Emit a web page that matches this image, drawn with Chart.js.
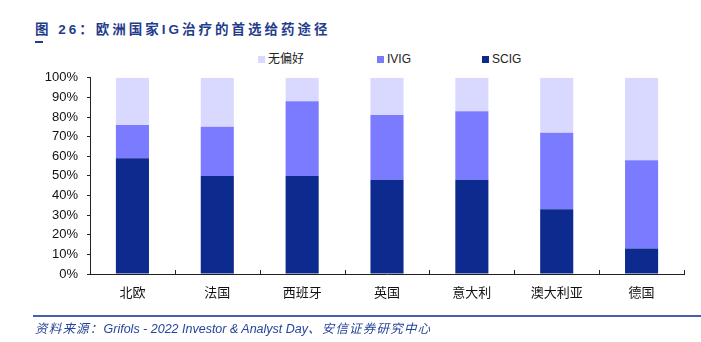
<!DOCTYPE html>
<html>
<head>
<meta charset="utf-8">
<script src="https://cdn.jsdelivr.net/npm/chart.js@4.4.1/dist/chart.umd.min.js"></script>
<style>
  html, body { margin: 0; padding: 0; background: #fff; }
  body { width: 701px; height: 342px; position: relative; overflow: hidden; }
  #title { position: absolute; left: 35px; top: 18px; font: bold 13.5px "Liberation Sans", "Noto Sans CJK SC", sans-serif; color: #1f3d8c; letter-spacing: 3px; white-space: nowrap; }
  #tick { position: absolute; left: 35px; top: 41px; width: 8px; height: 2px; background: #1f3d8c; }
  #legend { position: absolute; top: 51px; left: 0; width: 701px; height: 16px; }
  .li { position: absolute; top: 0; height: 16px; font: 12px "Liberation Sans", "Noto Sans CJK SC", sans-serif; color: #222; white-space: nowrap; line-height: 16px; }
  .li span.box { display: inline-block; width: 7px; height: 7px; margin-right: 3px; vertical-align: 0px; }
  #wrap { position: absolute; left: 0; top: 61px; width: 701px; height: 259px; }
  #c { display: block; width: 701px; height: 259px; }
  #rule { position: absolute; left: 33px; top: 315px; width: 668px; height: 2px; background: #4b5fb0; }
  #foot { position: absolute; left: 35px; top: 318px; font: italic 12.5px "Liberation Sans", "Noto Sans CJK SC", sans-serif; color: #25449a; white-space: nowrap; }
  #foot .cj { letter-spacing: 1.2px; }
</style>
</head>
<body>
<div id="title">图 26：欧洲国家IG治疗的首选给药途径</div>
<div id="tick"></div>
<div id="legend"></div>
<div id="wrap"><canvas id="c" width="701" height="259"></canvas></div>
<div id="rule"></div>
<div id="foot"><span class="cj">资料来源：</span>Grifols - 2022 Investor &amp; Analyst Day<span class="cj">、安信证券研究中心</span></div>
<script>
const categories = ['北欧', '法国', '西班牙', '英国', '意大利', '澳大利亚', '德国'];
const seriesNames = ['SCIG', 'IVIG', '无偏好'];
const scig = [59, 50, 50, 48, 48, 33, 13];
const ivig = [17, 25, 38, 33, 35, 39, 45];
const none = [24, 25, 12, 19, 17, 28, 42];
const yTickLabels = ['0%', '10%', '20%', '30%', '40%', '50%', '60%', '70%', '80%', '90%', '100%'];
const colors = ['#0d2a8f', '#7b7bff', '#d9d9ff'];
const legendX = [482, 377, 258];

// HTML legend (reverse order as in reference)
const lg = document.getElementById('legend');
[2, 1, 0].forEach(i => {
  const d = document.createElement('div');
  d.className = 'li';
  d.style.left = legendX[i] + 'px';
  const b = document.createElement('span');
  b.className = 'box';
  b.style.background = colors[i];
  d.appendChild(b);
  d.appendChild(document.createTextNode(seriesNames[i]));
  lg.appendChild(d);
});

const innerTicks = {
  id: 'innerTicks',
  afterDraw(chart) {
    const xs = chart.scales.x;
    const ctx = chart.ctx;
    const bottom = chart.chartArea.bottom;
    ctx.save();
    ctx.strokeStyle = '#222';
    ctx.lineWidth = 1;
    for (let i = 1; i <= categories.length; i++) {
      const x = Math.round(xs.getPixelForValue(i - 0.5)) + 0.5;
      ctx.beginPath();
      ctx.moveTo(x, bottom);
      ctx.lineTo(x, bottom - 4);
      ctx.stroke();
    }
    ctx.restore();
  }
};

new Chart(document.getElementById('c'), {
  type: 'bar',
  data: {
    labels: categories,
    datasets: [
      { label: seriesNames[0], data: scig, backgroundColor: colors[0] },
      { label: seriesNames[1], data: ivig, backgroundColor: colors[1] },
      { label: seriesNames[2], data: none, backgroundColor: colors[2] }
    ]
  },
  options: {
    responsive: false,
    animation: false,
    devicePixelRatio: 1,
    layout: { padding: { left: 0, right: 17, top: 8, bottom: 12 } },
    datasets: { bar: { categoryPercentage: 1, barPercentage: 0.39 } },
    plugins: { legend: { display: false }, tooltip: { enabled: false } },
    scales: {
      x: {
        stacked: true,
        offset: true,
        grid: { display: false, drawTicks: false },
        border: { display: true, color: '#222', width: 1 },
        ticks: { color: '#111', padding: 10, font: { family: '"Noto Sans CJK SC"', size: 13 } },
        afterFit(s) { s.height = 34; }
      },
      y: {
        stacked: true,
        min: 0, max: 100,
        grid: { drawOnChartArea: false, drawTicks: true, tickLength: 3, tickColor: '#222' },
        border: { display: true, color: '#222', width: 1 },
        ticks: { stepSize: 10, color: '#111', padding: 9, font: { family: '"Liberation Sans"', size: 13 },
                 callback: (v, i) => yTickLabels[i] },
        afterFit(s) { s.width = 90; }
      }
    }
  },
  plugins: [innerTicks]
});
</script>
</body>
</html>
